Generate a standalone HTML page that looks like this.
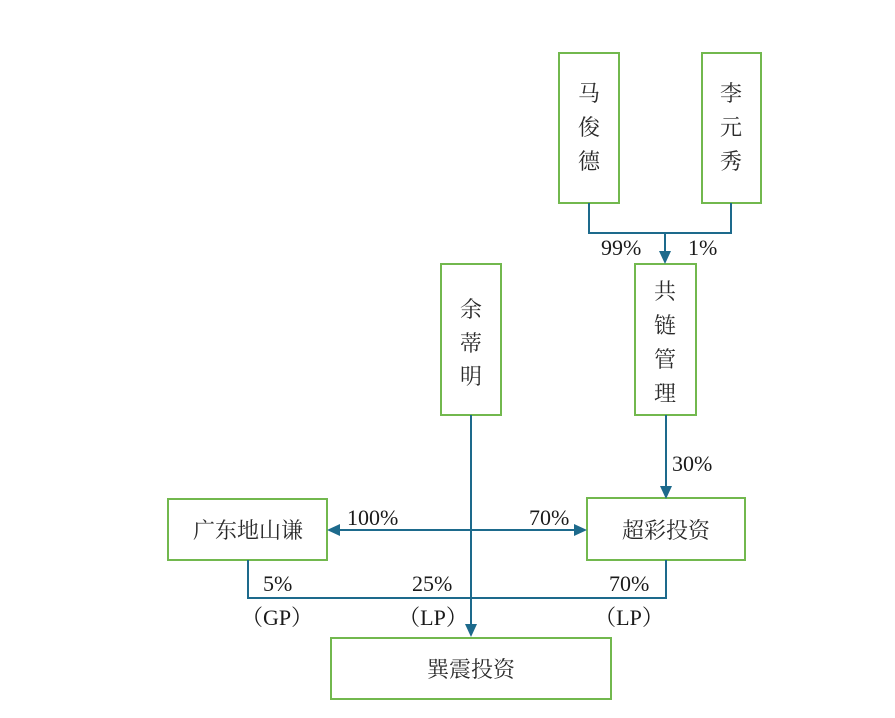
<!DOCTYPE html>
<html>
<head>
<meta charset="utf-8">
<style>
html,body{margin:0;padding:0;background:#fff;}
svg{display:block;}
.cj{font-family:"Liberation Serif","Noto Serif CJK SC",serif;font-size:22px;fill:#2a2a2a;}
.pc{font-family:"Liberation Serif","Noto Serif CJK SC",serif;font-size:22px;fill:#1a1a1a;}
</style>
</head>
<body>
<svg width="895" height="718" viewBox="0 0 895 718" xmlns="http://www.w3.org/2000/svg">
<rect width="895" height="718" fill="#fff"/>
<g fill="none" stroke="#72b84e" stroke-width="2">
  <rect x="559" y="53" width="60" height="150"/>
  <rect x="702" y="53" width="59" height="150"/>
  <rect x="441" y="264" width="60" height="151"/>
  <rect x="635" y="264" width="61" height="151"/>
  <rect x="168" y="499" width="159" height="61"/>
  <rect x="587" y="498" width="158" height="62"/>
  <rect x="331" y="638" width="280" height="61"/>
</g>
<g fill="none" stroke="#1d6a8c" stroke-width="2">
  <polyline points="589,203 589,233 731,233 731,203"/>
  <line x1="665" y1="233" x2="665" y2="253"/>
  <line x1="666" y1="415" x2="666" y2="487"/>
  <line x1="338" y1="530" x2="576" y2="530"/>
  <line x1="471" y1="415" x2="471" y2="626"/>
  <polyline points="248,560 248,598 666,598 666,560"/>
</g>
<g fill="#1d6a8c">
  <polygon points="659,251 671,251 665,264"/>
  <polygon points="660,486 672,486 666,499"/>
  <polygon points="327,530 340,524 340,536"/>
  <polygon points="587,530 574,524 574,536"/>
  <polygon points="465,624 477,624 471,637"/>
</g>
<g class="cj" text-anchor="middle">
  <text x="589" y="101">马</text>
  <text x="589" y="135">俊</text>
  <text x="589" y="169">德</text>
  <text x="731" y="101">李</text>
  <text x="731" y="135">元</text>
  <text x="731" y="169">秀</text>
  <text x="471" y="317">余</text>
  <text x="471" y="351">蒂</text>
  <text x="471" y="384">明</text>
  <text x="665" y="299">共</text>
  <text x="665" y="333">链</text>
  <text x="665" y="367">管</text>
  <text x="665" y="401">理</text>
  <text x="248" y="538">广东地山谦</text>
  <text x="666" y="538">超彩投资</text>
  <text x="471" y="677">巽震投资</text>
</g>
<g class="pc">
  <text x="601" y="255">99%</text>
  <text x="688" y="255">1%</text>
  <text x="672" y="471">30%</text>
  <text x="347" y="525">100%</text>
  <text x="529" y="525">70%</text>
  <text x="263" y="591">5%</text>
  <text x="412" y="591">25%</text>
  <text x="609" y="591">70%</text>
</g>
<g class="pc" text-anchor="middle">
  <text x="277" y="625">（GP）</text>
  <text x="433" y="625">（LP）</text>
  <text x="629" y="625">（LP）</text>
</g>
</svg>
</body>
</html>
